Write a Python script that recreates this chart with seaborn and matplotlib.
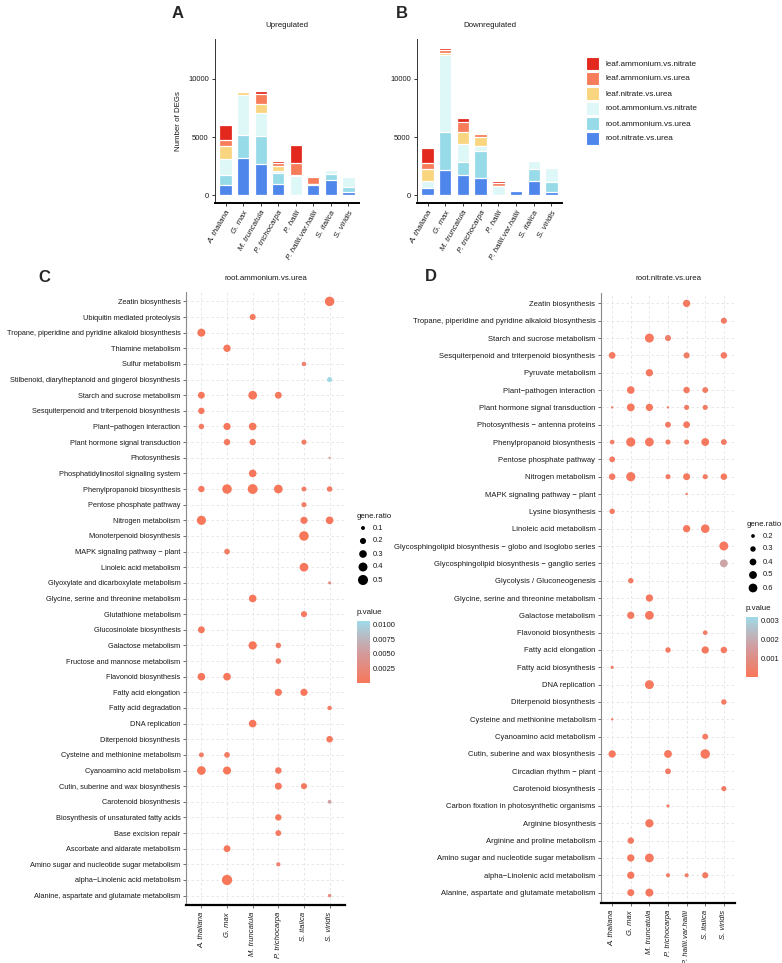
import numpy as np
import pandas as pd
import matplotlib
matplotlib.use("Agg")
import matplotlib.pyplot as plt
import seaborn as sns
from matplotlib.colors import LinearSegmentedColormap, Normalize
import matplotlib.cm as cm

sns.set_theme(style="white")
plt.rcParams['font.family'] = ['Liberation Sans', 'DejaVu Sans']

# ---------------- data: bar charts ----------------
species_bar = ["A. thaliana", "G. max", "M. truncatula", "P. trichocarpa", "P. hallii",
               "P. hallii.var.hallii", "S. italica", "S. viridis"]
comparisons = ["leaf.ammonium.vs.nitrate", "leaf.ammonium.vs.urea", "leaf.nitrate.vs.urea",
               "root.ammonium.vs.nitrate", "root.ammonium.vs.urea", "root.nitrate.vs.urea"]
comp_colors = ["#E3281E", "#F67C5A", "#F9D57F", "#DEF7F7", "#97DAE8", "#4F86EC"]

up_root_nitrate_urea = [850, 3200, 2730, 960, 0, 900, 1280, 330]
up_root_ammonium_urea = [930, 2000, 2380, 930, 0, 0, 550, 420]
up_root_ammonium_nitrate = [1310, 3430, 1950, 230, 1630, 50, 380, 850]
up_leaf_nitrate_urea = [1160, 230, 760, 380, 120, 0, 0, 0]
up_leaf_ammonium_urea = [520, 30, 900, 300, 1040, 620, 0, 0]
up_leaf_ammonium_nitrate = [1280, 20, 200, 170, 1570, 0, 0, 0]

dn_root_nitrate_urea = [600, 2150, 1715, 1480, 0, 400, 1250, 320]
dn_root_ammonium_urea = [0, 3250, 1160, 2330, 0, 0, 1020, 870]
dn_root_ammonium_nitrate = [670, 6630, 1570, 440, 810, 60, 670, 1160]
dn_leaf_nitrate_urea = [1010, 200, 960, 790, 0, 0, 0, 0]
dn_leaf_ammonium_urea = [500, 200, 900, 230, 230, 120, 0, 0]
dn_leaf_ammonium_nitrate = [1310, 230, 290, 50, 200, 0, 0, 0]

# ---------------- data: dot plot C (root.ammonium.vs.urea) ----------------
species_c = ["A. thaliana", "G. max", "M. truncatula", "P. trichocarpa", "S. italica", "S. viridis"]
pathways_c = [
    "Zeatin biosynthesis", "Ubiquitin mediated proteolysis",
    "Tropane, piperidine and pyridine alkaloid biosynthesis", "Thiamine metabolism",
    "Sulfur metabolism", "Stilbenoid, diarylheptanoid and gingerol biosynthesis",
    "Starch and sucrose metabolism", "Sesquiterpenoid and triterpenoid biosynthesis",
    "Plant\u2212pathogen interaction", "Plant hormone signal transduction", "Photosynthesis",
    "Phosphatidylinositol signaling system", "Phenylpropanoid biosynthesis",
    "Pentose phosphate pathway", "Nitrogen metabolism", "Monoterpenoid biosynthesis",
    "MAPK signaling pathway \u2212 plant", "Linoleic acid metabolism",
    "Glyoxylate and dicarboxylate metabolism", "Glycine, serine and threonine metabolism",
    "Glutathione metabolism", "Glucosinolate biosynthesis", "Galactose metabolism",
    "Fructose and mannose metabolism", "Flavonoid biosynthesis", "Fatty acid elongation",
    "Fatty acid degradation", "DNA replication", "Diterpenoid biosynthesis",
    "Cysteine and methionine metabolism", "Cyanoamino acid metabolism",
    "Cutin, suberine and wax biosynthesis", "Carotenoid biosynthesis",
    "Biosynthesis of unsaturated fatty acids", "Base excision repair",
    "Ascorbate and aldarate metabolism", "Amino sugar and nucleotide sugar metabolism",
    "alpha\u2212Linolenic acid metabolism", "Alanine, aspartate and glutamate metabolism"]

c_pathway = [0, 1, 2, 3, 4, 5, 6, 6, 6, 7, 8, 8, 8, 9, 9, 9, 10, 11,
             12, 12, 12, 12, 12, 12, 13, 14, 14, 14, 15, 16, 17, 18, 19, 20, 21,
             22, 22, 23, 24, 24, 25, 25, 26, 27, 28, 29, 29, 30, 30, 30, 31, 31,
             32, 33, 34, 35, 36, 37, 38]
c_species = ["S. viridis", "M. truncatula", "A. thaliana", "G. max", "S. italica", "S. viridis",
             "A. thaliana", "M. truncatula", "P. trichocarpa", "A. thaliana",
             "A. thaliana", "G. max", "M. truncatula", "G. max", "M. truncatula", "S. italica",
             "S. viridis", "M. truncatula",
             "A. thaliana", "G. max", "M. truncatula", "P. trichocarpa", "S. italica", "S. viridis",
             "S. italica", "A. thaliana", "S. italica", "S. viridis", "S. italica", "G. max",
             "S. italica", "S. viridis", "M. truncatula", "S. italica", "A. thaliana",
             "M. truncatula", "P. trichocarpa", "P. trichocarpa", "A. thaliana", "G. max",
             "P. trichocarpa", "S. italica", "S. viridis", "M. truncatula", "S. viridis",
             "A. thaliana", "G. max", "A. thaliana", "G. max", "P. trichocarpa",
             "P. trichocarpa", "S. italica", "S. viridis", "P. trichocarpa", "P. trichocarpa",
             "G. max", "P. trichocarpa", "G. max", "S. viridis"]
c_gene_ratio = [0.45, 0.20, 0.33, 0.28, 0.12, 0.15,
                0.25, 0.38, 0.25, 0.22,
                0.17, 0.27, 0.30, 0.22, 0.22, 0.15,
                0.05, 0.30,
                0.22, 0.45, 0.48, 0.38, 0.14, 0.17,
                0.15, 0.42, 0.27, 0.30, 0.45, 0.18,
                0.38, 0.07, 0.30, 0.20, 0.25,
                0.35, 0.17, 0.17, 0.30, 0.30,
                0.27, 0.27, 0.12, 0.30, 0.23,
                0.14, 0.18, 0.38, 0.33, 0.23,
                0.26, 0.20, 0.09, 0.22, 0.19,
                0.25, 0.11, 0.52, 0.08]
c_pvalue = [0.0002, 0.0006, 0.0001, 0.0003, 0.0015, 0.0104,
            0.0002, 0.0001, 0.0004, 0.0003,
            0.0008, 0.0002, 0.0001, 0.0005, 0.0004, 0.0010,
            0.0050, 0.0002,
            0.0003, 0.0001, 0.0001, 0.0001, 0.0010, 0.0008,
            0.0010, 0.0001, 0.0003, 0.0002, 0.0001, 0.0008,
            0.0001, 0.0030, 0.0002, 0.0006, 0.0003,
            0.0001, 0.0008, 0.0008, 0.0002, 0.0002,
            0.0003, 0.0002, 0.0012, 0.0002, 0.0004,
            0.0010, 0.0008, 0.0001, 0.0001, 0.0005,
            0.0003, 0.0006, 0.0055, 0.0004, 0.0006,
            0.0003, 0.0015, 0.0001, 0.0025]

# ---------------- data: dot plot D (root.nitrate.vs.urea) ----------------
species_d = ["A. thaliana", "G. max", "M. truncatula", "P. trichocarpa", "P. hallii.var.hallii",
             "S. italica", "S. viridis"]
pathways_d = [
    "Zeatin biosynthesis", "Tropane, piperidine and pyridine alkaloid biosynthesis",
    "Starch and sucrose metabolism", "Sesquiterpenoid and triterpenoid biosynthesis",
    "Pyruvate metabolism", "Plant\u2212pathogen interaction", "Plant hormone signal transduction",
    "Photosynthesis \u2212 antenna proteins", "Phenylpropanoid biosynthesis",
    "Pentose phosphate pathway", "Nitrogen metabolism", "MAPK signaling pathway \u2212 plant",
    "Lysine biosynthesis", "Linoleic acid metabolism",
    "Glycosphingolipid biosynthesis \u2212 globo and isoglobo series",
    "Glycosphingolipid biosynthesis \u2212 ganglio series", "Glycolysis / Gluconeogenesis",
    "Glycine, serine and threonine metabolism", "Galactose metabolism", "Flavonoid biosynthesis",
    "Fatty acid elongation", "Fatty acid biosynthesis", "DNA replication",
    "Diterpenoid biosynthesis", "Cysteine and methionine metabolism",
    "Cyanoamino acid metabolism", "Cutin, suberine and wax biosynthesis",
    "Circadian rhythm \u2212 plant", "Carotenoid biosynthesis",
    "Carbon fixation in photosynthetic organisms", "Arginine biosynthesis",
    "Arginine and proline metabolism", "Amino sugar and nucleotide sugar metabolism",
    "alpha\u2212Linolenic acid metabolism", "Alanine, aspartate and glutamate metabolism"]

d_pathway = [0, 1, 2, 2, 3, 3, 3, 4, 5, 5, 5, 6, 6, 6, 6, 6, 6, 7, 7,
             8, 8, 8, 8, 8, 8, 8, 9, 9, 10, 10, 10, 10, 10, 10, 11, 12, 13, 13,
             14, 15, 16, 17, 18, 18, 19, 20, 20, 20, 21, 22, 23, 24, 25, 26, 26, 26,
             27, 28, 29, 30, 31, 32, 32, 33, 33, 33, 33, 34, 34]
d_species = ["P. hallii.var.hallii", "S. viridis", "M. truncatula", "P. trichocarpa",
             "A. thaliana", "P. hallii.var.hallii", "S. viridis", "M. truncatula",
             "G. max", "P. hallii.var.hallii", "S. italica",
             "A. thaliana", "G. max", "M. truncatula", "P. trichocarpa", "P. hallii.var.hallii", "S. italica",
             "P. trichocarpa", "P. hallii.var.hallii",
             "A. thaliana", "G. max", "M. truncatula", "P. trichocarpa", "P. hallii.var.hallii",
             "S. italica", "S. viridis",
             "A. thaliana", "S. viridis",
             "A. thaliana", "G. max", "P. trichocarpa", "P. hallii.var.hallii", "S. italica", "S. viridis",
             "P. hallii.var.hallii", "A. thaliana", "P. hallii.var.hallii", "S. italica",
             "S. viridis", "S. viridis", "G. max", "M. truncatula", "G. max", "M. truncatula",
             "S. italica", "P. trichocarpa", "S. italica", "S. viridis", "A. thaliana",
             "M. truncatula", "S. viridis", "A. thaliana", "S. italica",
             "A. thaliana", "P. trichocarpa", "S. italica",
             "P. trichocarpa", "S. viridis", "P. trichocarpa", "M. truncatula", "G. max",
             "G. max", "M. truncatula",
             "G. max", "P. trichocarpa", "P. hallii.var.hallii", "S. italica",
             "G. max", "M. truncatula"]
d_gene_ratio = [0.45, 0.35, 0.62, 0.35, 0.40, 0.35, 0.38, 0.45,
                0.48, 0.38, 0.33,
                0.15, 0.50, 0.45, 0.15, 0.28, 0.28,
                0.33, 0.40,
                0.25, 0.65, 0.60, 0.28, 0.28, 0.50, 0.33,
                0.33, 0.12,
                0.38, 0.65, 0.28, 0.42, 0.28, 0.38,
                0.15, 0.30, 0.45, 0.58,
                0.62, 0.50, 0.30, 0.45, 0.45, 0.60,
                0.25, 0.30, 0.45, 0.38, 0.18,
                0.62, 0.30, 0.15, 0.33,
                0.45, 0.50, 0.68,
                0.33, 0.28, 0.18, 0.55, 0.38,
                0.45, 0.60,
                0.45, 0.22, 0.22, 0.35,
                0.42, 0.52]
d_pvalue = [0.0002, 0.0003, 0.0001, 0.0004, 0.0002, 0.0003, 0.0002, 0.0001,
            0.0001, 0.0002, 0.0003,
            0.0005, 0.0001, 0.0001, 0.0004, 0.0002, 0.0002,
            0.0002, 0.0001,
            0.0003, 0.0001, 0.0001, 0.0002, 0.0002, 0.0001, 0.0002,
            0.0002, 0.0030,
            0.0002, 0.0001, 0.0002, 0.0001, 0.0002, 0.0001,
            0.0003, 0.0002, 0.0001, 0.0001,
            0.0001, 0.0018, 0.0002, 0.0001, 0.0002, 0.0001,
            0.0003, 0.0002, 0.0001, 0.0002, 0.0004,
            0.0001, 0.0002, 0.0004, 0.0002,
            0.0001, 0.0001, 0.0001,
            0.0002, 0.0002, 0.0004, 0.0001, 0.0002,
            0.0001, 0.0001,
            0.0001, 0.0003, 0.0003, 0.0002,
            0.0001, 0.0001]

# ---------------- figure ----------------
W, H = 782, 963
fig = plt.figure(figsize=(W / 100, H / 100), dpi=100)


def px_axes(l, t, r, b):
    return fig.add_axes([l / W, 1 - b / H, (r - l) / W, (b - t) / H])


TXT = "#1a1a1a"
pv_cmap = LinearSegmentedColormap.from_list("pv", ["#F8765A", "#D29C9E", "#9FDAE8"])


def stacked_bar(ax, layers, title):
    # layers given bottom -> top : root.nitrate.vs.urea ... leaf.ammonium.vs.nitrate
    cum = np.cumsum(np.array(layers, dtype=float), axis=0)
    cols = comp_colors[::-1]
    for k in range(len(layers) - 1, -1, -1):
        sns.barplot(x=species_bar, y=cum[k], color=cols[k], saturation=1, width=0.7,
                    edgecolor="white", linewidth=0.9, ax=ax)
    ax.set_xlim(-0.6, 7.6)
    ax.set_ylim(-650, 13400)
    ax.set_yticks([0, 5000, 10000])
    ax.set_yticklabels(["0", "5000", "10000"], fontsize=5.5, color=TXT)
    ax.set_xticks(range(len(species_bar)))
    ax.set_xticklabels(species_bar, rotation=60, ha="right", va="top", rotation_mode="anchor",
                       fontsize=5.7, fontstyle="italic", color=TXT)
    for s in ["top", "right"]:
        ax.spines[s].set_visible(False)
    ax.spines["left"].set_color("#333333")
    ax.spines["left"].set_linewidth(0.7)
    ax.spines["bottom"].set_color("black")
    ax.spines["bottom"].set_linewidth(1.4)
    ax.tick_params(axis="both", length=2.5, width=0.7, color="#333333", pad=2, left=True, bottom=True)
    ax.set_xlabel("")
    ax.set_ylabel("")
    ax.set_title(title, fontsize=5.7, color=TXT, pad=9)
    ax.grid(False)


axA = px_axes(215, 39, 359, 203)
stacked_bar(axA, [up_root_nitrate_urea, up_root_ammonium_urea, up_root_ammonium_nitrate,
                  up_leaf_nitrate_urea, up_leaf_ammonium_urea, up_leaf_ammonium_nitrate],
            "Upregulated")
axA.set_ylabel("Number of DEGs", fontsize=5.7, color=TXT, labelpad=4)

axB = px_axes(417, 39, 562, 203)
stacked_bar(axB, [dn_root_nitrate_urea, dn_root_ammonium_urea, dn_root_ammonium_nitrate,
                  dn_leaf_nitrate_urea, dn_leaf_ammonium_urea, dn_leaf_ammonium_nitrate],
            "Downregulated")

# bar legend
for i, (lab, col) in enumerate(zip(comparisons, comp_colors)):
    yc = 64 + 15 * i
    fig.patches.append(plt.Rectangle((586 / W, 1 - (yc + 6.5) / H), 13 / W, 13 / H,
                                     transform=fig.transFigure, facecolor=col,
                                     edgecolor="white", linewidth=0.8))
    fig.text(606 / W, 1 - yc / H, lab, fontsize=5.9, color=TXT, va="center", ha="left")

# panel letters
for lab, x, y in [("A", 172, 14), ("B", 396, 14), ("C", 38, 278), ("D", 425, 276)]:
    fig.text(x / W, 1 - y / H, lab, fontsize=12, fontweight="bold", va="center", ha="left")


def dot_panel(ax, species, pathways, p_path, p_sp, ratio, pval, size_norm, sizes, hue_norm, title,
              yfs):
    n = len(pathways)
    df = pd.DataFrame({
        "xi": [species.index(s) for s in p_sp],
        "yi": [n - 1 - p for p in p_path],
        "gene.ratio": ratio,
        "p.value": pval,
    })
    ax.set_axisbelow(True)
    sns.scatterplot(data=df, x="xi", y="yi", size="gene.ratio", hue="p.value",
                    palette=pv_cmap, hue_norm=hue_norm, sizes=sizes, size_norm=size_norm,
                    edgecolor="none", linewidth=0, legend=False, ax=ax, zorder=3)
    ax.set_xlim(-0.6, len(species) - 0.4)
    ax.set_ylim(-0.6, n - 0.4)
    ax.set_xticks(range(len(species)))
    ax.set_xticklabels(species, rotation=90, ha="center", va="top", fontsize=5.5,
                       fontstyle="italic", color=TXT)
    ax.set_yticks(range(n))
    ax.set_yticklabels(pathways[::-1], fontsize=yfs, color=TXT)
    ax.set_xlabel("")
    ax.set_ylabel("")
    ax.grid(True, color="#E3E3E3", linestyle=(0, (3, 3)), linewidth=0.6)
    for s in ["top", "right"]:
        ax.spines[s].set_visible(False)
    ax.spines["left"].set_color("#8a8a8a")
    ax.spines["left"].set_linewidth(0.8)
    ax.spines["bottom"].set_color("black")
    ax.spines["bottom"].set_linewidth(1.6)
    ax.tick_params(axis="y", length=2.5, width=0.6, color="#555555", pad=1.5, left=True)
    ax.tick_params(axis="x", length=2, width=0.6, color="#555555", pad=3, bottom=True)
    ax.set_title(title, fontsize=5.7, color=TXT, pad=9)


def size_legend(l, t, r, b, values, labels, size_norm, sizes, title):
    lax = px_axes(l, t, r, b)
    lax.set_xlim(l, r)
    lax.set_ylim(b, t)
    lax.axis("off")
    ys = [t + 14 + 13 * i for i in range(len(values))]
    sns.scatterplot(x=[l + 6] * len(values), y=ys, size=values, sizes=sizes, size_norm=size_norm,
                    color="black", edgecolor="none", legend=False, ax=lax)
    lax.text(l, t + 2, title, fontsize=5.7, color=TXT, va="center", ha="left")
    for yv, lb in zip(ys, labels):
        lax.text(l + 16, yv, lb, fontsize=5.5, color=TXT, va="center", ha="left")


def color_legend(l, t, r, b, vmin, vmax, ticks, ticklabels, title):
    cax = px_axes(l, t, r, b)
    sm = cm.ScalarMappable(norm=Normalize(vmin, vmax), cmap=pv_cmap)
    cb = fig.colorbar(sm, cax=cax, orientation="vertical")
    cb.outline.set_visible(False)
    cb.set_ticks(ticks)
    cb.set_ticklabels(ticklabels)
    cax.tick_params(axis="y", length=3, width=0.6, color="white", direction="in", labelsize=5.5,
                    labelcolor=TXT, pad=2)
    fig.text(l / W, 1 - (t - 9) / H, title, fontsize=5.7, color=TXT, va="center", ha="left")


# Panel C
axC = px_axes(186, 292, 345, 905)
c_norm = (0.05, 0.55)
c_sizes = (2.5, 58)
dot_panel(axC, species_c, pathways_c, c_pathway, c_species, c_gene_ratio, c_pvalue,
          c_norm, c_sizes, (0, 0.0106), "root.ammonium.vs.urea", 5.35)
size_legend(357, 514, 410, 592, [0.1, 0.2, 0.3, 0.4, 0.5], ["0.1", "0.2", "0.3", "0.4", "0.5"],
            c_norm, c_sizes, "gene.ratio")
color_legend(357, 621, 370, 683, 0, 0.0106, [0.0025, 0.005, 0.0075, 0.01],
             ["0.0025", "0.0050", "0.0075", "0.0100"], "p.value")

# Panel D
axD = px_axes(601, 293, 735, 903)
d_norm = (0.12, 0.7)
d_sizes = (0.6, 48)
dot_panel(axD, species_d, pathways_d, d_pathway, d_species, d_gene_ratio, d_pvalue,
          d_norm, d_sizes, (0, 0.0032), "root.nitrate.vs.urea", 5.5)
size_legend(747, 522, 782, 600, [0.2, 0.3, 0.4, 0.5, 0.6], ["0.2", "0.3", "0.4", "0.5", "0.6"],
            d_norm, d_sizes, "gene.ratio")
color_legend(746, 617, 758, 677, 0, 0.0032, [0.001, 0.002, 0.003],
             ["0.001", "0.002", "0.003"], "p.value")

fig.savefig("out.png", dpi=100)
